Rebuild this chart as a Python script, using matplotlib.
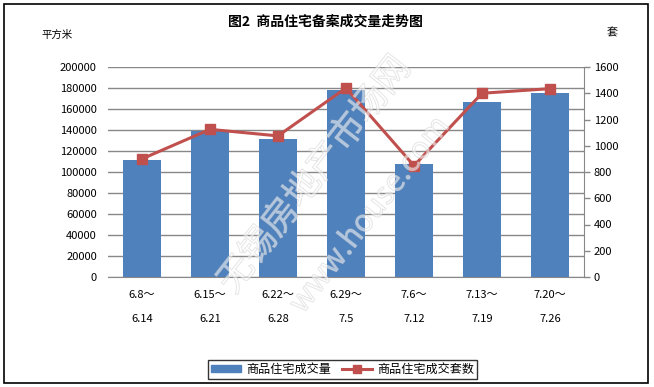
import matplotlib
matplotlib.use("Agg")
import matplotlib.pyplot as plt
import matplotlib.patheffects as pe
from matplotlib.patches import Rectangle
from matplotlib.lines import Line2D
from matplotlib.patches import Patch

plt.rcParams['font.family'] = ['Noto Sans CJK SC', 'DejaVu Sans']

weeks_start = ["6.8～", "6.15～", "6.22～", "6.29～", "7.6～", "7.13～", "7.20～"]
weeks_end = ["6.14", "6.21", "6.28", "7.5", "7.12", "7.19", "7.26"]
area = [111500, 139500, 131500, 178000, 107500, 166500, 175000]
units = [900, 1125, 1075, 1440, 848, 1400, 1435]

W, H = 654, 387
fig = plt.figure(figsize=(W / 100, H / 100), dpi=100)
ax = fig.add_axes([108 / W, 1 - 277 / H, (584 - 108) / W, (277 - 67) / H])
ax2 = ax.twinx()

x = list(range(len(area)))
bar_color = "#4F81BD"
line_color = "#C0504D"
grid_color = "#888888"

ax.bar(x, area, width=0.57, color=bar_color, zorder=2)
ax.set_xlim(-0.5, len(area) - 0.5)
ax.set_ylim(0, 200000)
ax.set_yticks(range(0, 200001, 20000))
ax.yaxis.grid(True, color=grid_color, linewidth=1.0, zorder=0)
ax.set_axisbelow(True)
for s in ["top", "left", "right"]:
    ax.spines[s].set_visible(False)
ax.spines["bottom"].set_color(grid_color)
ax.tick_params(axis="y", length=0, pad=8, labelsize=8)
ax.tick_params(axis="x", length=0, pad=9, labelsize=8)
ax.set_xticks(x)
ax.set_xticklabels([a + "\n\n" + b for a, b in zip(weeks_start, weeks_end)], linespacing=1.25)

ax2.plot(x, units, color=line_color, linewidth=2.2, marker="s", markersize=7,
         markerfacecolor=line_color, markeredgecolor=line_color, zorder=3)
ax2.set_ylim(0, 1600)
ax2.set_yticks(range(0, 1601, 200))
for s in ["top", "left", "bottom"]:
    ax2.spines[s].set_visible(False)
ax2.spines["right"].set_color(grid_color)
ax2.tick_params(axis="y", length=4, width=1, color=grid_color, pad=3, labelsize=8)

fig.text(325 / W, 1 - 22 / H, "图2  商品住宅备案成交量走势图", ha="center", va="center",
         fontsize=10, fontweight="bold")
fig.text(57 / W, 1 - 35 / H, "平方米", ha="center", va="center", fontsize=7.5)
fig.text(612 / W, 1 - 33 / H, "套", ha="center", va="center", fontsize=8)

# faint outlined watermark
wm = dict(color="white", alpha=0.55, rotation=52, ha="center", va="center", zorder=1,
          path_effects=[pe.Stroke(linewidth=0.7, foreground="#D0D0D0")])
fig.text(315 / W, 1 - 175 / H, "无锡房地产市场网", fontsize=26, **wm)
fig.text(370 / W, 1 - 215 / H, "www.house.com", fontsize=22, **wm)

handles = [Patch(facecolor=bar_color, edgecolor=bar_color),
           Line2D([0], [0], color=line_color, linewidth=2.2, marker="s", markersize=6)]
leg = fig.legend(handles, ["商品住宅成交量", "商品住宅成交套数"], loc="center",
                 bbox_to_anchor=(342.5 / W, 1 - 369.5 / H), ncol=2, fontsize=8.7,
                 frameon=True, fancybox=False, edgecolor="black", borderpad=0.25,
                 handlelength=2.5, handleheight=0.5, columnspacing=0.9, handletextpad=0.4)
leg.get_frame().set_linewidth(1.0)

fig.patches.append(Rectangle((4 / W, 4 / H), (648 - 4) / W, (383 - 4) / H,
                             transform=fig.transFigure, fill=False, edgecolor="black",
                             linewidth=1.2))

fig.savefig("out.png", dpi=100)
